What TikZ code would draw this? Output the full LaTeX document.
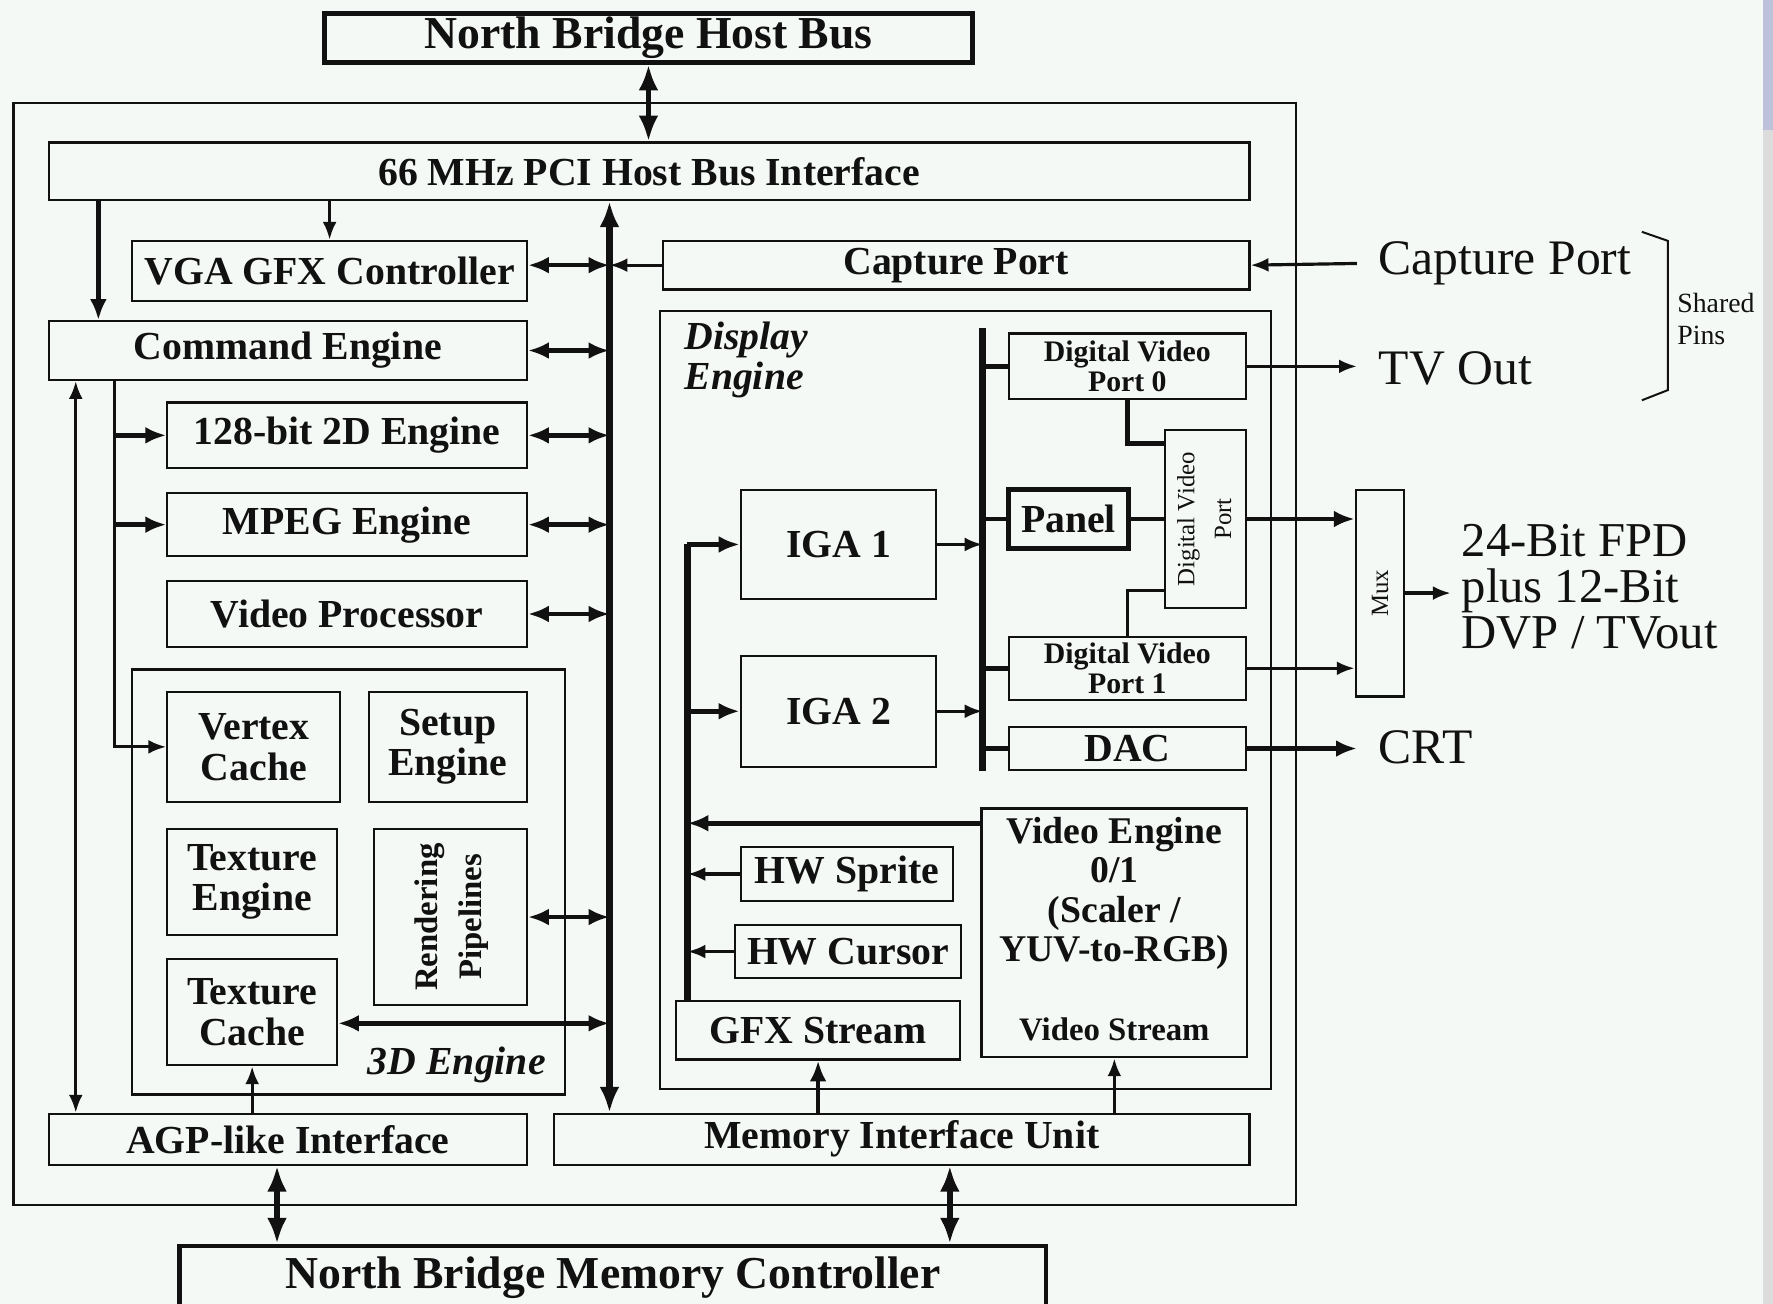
\documentclass[tikz,border=0pt]{standalone}
\usepackage{fontspec}
\setmainfont{Liberation Serif}
\usepackage{graphicx}
\usepackage{tikz}
\usetikzlibrary{arrows.meta}
\definecolor{ChipInk}{HTML}{111111}
\definecolor{PaperTint}{HTML}{F5F9F5}
\definecolor{ScrollBlue}{HTML}{BEC1DA}
\definecolor{ScrollGray}{HTML}{DCDCDC}
\tikzset{
  chip/.style={x=0.02cm,y=-0.02cm,font=\fontsize{20}{20.5}\selectfont\bfseries,color=ChipInk},
  boxwh/.style 2 args={minimum width=#1*0.02cm,minimum height=#2*0.02cm},
  unit/.style={draw=ChipInk,line width=1.1pt,inner sep=0pt,align=center},
  heavy/.style={unit,line width=2.4pt},
  pinlabel/.style={font=\fontsize{25}{23}\selectfont\mdseries,inner sep=0pt,anchor=west,align=left},
  bus/.style={line width=3.4pt,>={Latex[length=13pt,width=10pt]}},
  thinwire/.style={line width=1.6pt,>={Latex[length=9pt,width=7pt]}},
  wire/.style={line width=2.3pt,>={Latex[length=10.5pt,width=8.5pt]}},
  fatwire/.style={line width=2.8pt,>={Latex[length=13pt,width=10pt]}},
}

\begin{document}
\begin{tikzpicture}[chip]
  \path[use as bounding box] (0,0) rectangle (1568,1153);
  \clip (0,0) rectangle (1568,1153);
  \fill[PaperTint] (0,0) rectangle (1568,1153);
  \fill[ScrollGray] (1559,0) rectangle (1568,1153);
  \fill[ScrollBlue] (1559,0) rectangle (1568,115);

  \node[heavy,boxwh={573}{43},font=\fontsize{23}{24}\selectfont\bfseries] (nbhb) at (573.5,33.5) {North Bridge Host Bus};
  \node[unit,boxwh={1134}{975}] (chipframe) at (579,578.5) {};
  \node[unit,boxwh={1062}{51}] (pci) at (574,151.5) {66 MHz PCI Host Bus Interface};
  \node[unit,boxwh={519}{43}] (cap) at (845.5,234.5) {Capture Port};
  \node[unit,boxwh={349}{53}] (vga) at (291.5,239.5) {VGA GFX Controller};
  \node[unit,boxwh={423}{52}] (cmd) at (254.5,310) {Command Engine};
  \node[unit,boxwh={318}{58}] (twod) at (307,385) {128-bit 2D Engine};
  \node[unit,boxwh={318}{56}] (mpeg) at (307,464) {MPEG Engine};
  \node[unit,boxwh={318}{58}] (vproc) at (307,543) {Video Processor};

  \node[unit,boxwh={383}{376}] (threed) at (308.5,780) {};
  \node[unit,boxwh={153}{97}] (vcache) at (224.5,660.5) {Vertex\\Cache};
  \node[unit,boxwh={140}{97}] (setup) at (396,660.5) {Setup\\Engine};
  \node[unit,boxwh={150}{94}] (tengine) at (223,780) {Texture\\Engine};
  \node[unit,boxwh={135}{156},font=\fontsize{16.5}{22.5}\selectfont\bfseries] (render) at (398.5,811)
    {\rotatebox{90}{\begin{tabular}{@{}c@{}}Rendering\\Pipelines\end{tabular}}};
  \node[unit,boxwh={150}{94}] (tcache) at (223,895) {Texture\\Cache};
  \node[font=\fontsize{20}{20}\selectfont\bfseries\itshape] (threedname) at (404,942) {3D Engine};

  \node[unit,boxwh={423}{45}] (agp) at (254.5,1007.5) {AGP-like Interface};
  \node[unit,boxwh={615}{45}] (miu) at (797.5,1007.5) {Memory Interface Unit};
  \node[heavy,boxwh={766}{56},font=\fontsize{23}{24}\selectfont\bfseries] (nbmc) at (542,1130) {North Bridge Memory Controller};

  \node[unit,boxwh={540}{688}] (disp) at (854,619) {};
  \node[font=\fontsize{20}{20}\selectfont\bfseries\itshape,align=left,anchor=west,inner sep=0pt] (dispname) at (605,318) {Display\\Engine};
  \node[unit,boxwh={210}{58},font=\fontsize{15}{15}\selectfont\bfseries] (dvp0) at (997,324) {Digital Video\\Port 0};
  \node[unit,boxwh={72}{158},font=\fontsize{12.5}{18.5}\selectfont\mdseries] (dvp) at (1066,459)
    {\rotatebox{90}{\begin{tabular}{@{}c@{}}Digital Video\\Port\end{tabular}}};
  \node[heavy,boxwh={106}{52}] (panel) at (945,459) {Panel};
  \node[unit,boxwh={210}{56},font=\fontsize{15}{15}\selectfont\bfseries] (dvp1) at (997,591) {Digital Video\\Port 1};
  \node[unit,boxwh={210}{38}] (dac) at (997,662) {DAC};
  \node[unit,boxwh={173}{97}] (iga1) at (741.5,481.5) {IGA 1};
  \node[unit,boxwh={173}{98}] (iga2) at (741.5,629) {IGA 2};
  \node[unit,boxwh={235}{220}] (veng) at (985.5,825) {};
  \node[font=\fontsize{19}{19.8}\selectfont\bfseries,align=center,inner sep=0pt] (vengname) at (985.5,790)
    {Video Engine\\0/1\\(Scaler /\\YUV-to-RGB)};
  \node[font=\fontsize{16.5}{17}\selectfont\bfseries,inner sep=0pt] (vstream) at (985.5,910) {Video Stream};
  \node[unit,boxwh={188}{48}] (sprite) at (749,773) {HW Sprite};
  \node[unit,boxwh={200}{47}] (cursor) at (750,841.5) {HW Cursor};
  \node[unit,boxwh={251}{52}] (gfx) at (723.5,911) {GFX Stream};
  \node[unit,boxwh={43}{183},font=\fontsize{12.5}{13}\selectfont\mdseries] (mux) at (1220.5,524.5) {\rotatebox{90}{Mux}};

  \node[pinlabel,outer sep=11pt] (capin) at (1200,233) {Capture Port};
  \node[pinlabel,outer sep=11pt] (tvout) at (1200,326) {TV Out};
  \node[pinlabel,outer sep=11pt] (crt) at (1200,661) {CRT};
  \node[pinlabel,outer sep=5.5pt,font=\fontsize{24.5}{23}\selectfont\mdseries] (fpd) at (1283,519) {24-Bit FPD\\plus 12-Bit\\DVP / TVout};
  \node[font=\fontsize{14}{16}\selectfont\mdseries,inner sep=0pt,anchor=west,align=left] (shared) at (1483,282) {Shared\\Pins};
  \draw[line width=1pt] (1452,205) -- (1475,213) -- (1475,345) -- (1452,354);

  \coordinate (bus) at (539,0);
  \coordinate (laneA) at (67,0);
  \coordinate (laneB) at (87,0);
  \coordinate (laneC) at (101,0);
  \coordinate (dbus) at (608,0);
  \coordinate (rbusTop) at (869,290);
  \coordinate (rbusBot) at (869,682);
  \coordinate (agpLink) at (245,0);
  \coordinate (miuLink) at (840,0);

  \draw[<->,fatwire] (nbhb.south) -- (nbhb.south |- pci.north);
  \draw[->,wire] (pci.south -| laneB) -- (cmd.north -| laneB);
  \draw[->,thinwire] (pci.south -| vga.north) -- (vga.north);
  \draw[<->,bus] (pci.south -| bus) -- (miu.north -| bus);
  \draw[<->,wire] (vga.east |- cap.west) -- (cap.west -| bus);
  \draw[->,thinwire] (cap.west) -- (cap.west -| bus);
  \draw[->,thinwire] (capin.west) -- (cap.east);
  \foreach \blk in {cmd,twod,mpeg,vproc,render}
    \draw[<->,wire] (\blk.east) -- (\blk.east -| bus);
  \draw[<->,wire] ([yshift=-0.2cm]tcache.east) -- ([yshift=-0.2cm]tcache.east -| bus);
  \draw[->,thinwire] (cmd.south -| laneC) |- (vcache.west);
  \foreach \blk in {twod,mpeg}
    \draw[->,wire] (\blk.west -| laneC) -- (\blk.west);
  \draw[<->,thinwire] (cmd.south -| laneA) -- (agp.north -| laneA);
  \draw[->,thinwire] (agp.north -| tcache.south) -- (tcache.south);
  \draw[<->,fatwire] (agp.south -| agpLink) -- (nbmc.north -| agpLink);
  \draw[<->,fatwire] (miu.south -| miuLink) -- (nbmc.north -| miuLink);
  \draw[->,wire] (miu.north -| gfx.south) -- (gfx.south);
  \draw[->,thinwire] (miu.north -| veng.south) -- (veng.south);

  \draw[bus] (iga1.west -| dbus) -- (gfx.north -| dbus);
  \foreach \blk in {iga1,iga2}
    \draw[->,wire] (\blk.west -| dbus) -- (\blk.west);
  \draw[->,wire] ([yshift=-0.28cm]veng.north west) -- ([yshift=-0.28cm]veng.north west -| dbus);
  \foreach \blk in {sprite,cursor}
    \draw[->,thinwire] (\blk.west) -- (\blk.west -| dbus);
  \draw[bus] (rbusTop) -- (rbusBot);
  \foreach \blk in {iga1,iga2}
    \draw[->,thinwire] (\blk.east) -- (\blk.east -| rbusTop);
  \foreach \blk in {dvp0,panel,dvp1,dac}
    \draw[wire] (\blk.west -| rbusTop) -- (\blk.west);
  \draw[wire] (dvp0.south) |- ([yshift=-0.26cm]dvp.north west);
  \draw[wire] (panel.east) -- (dvp.west);
  \draw[thinwire] (dvp1.north) |- ([yshift=0.34cm]dvp.south west);
  \draw[->,thinwire] (dvp0.east) -- (dvp0.east -| tvout.west);
  \draw[->,wire] (dvp.east) -- (dvp.east -| mux.west);
  \draw[->,thinwire] (dvp1.east) -- (dvp1.east -| mux.west);
  \draw[->,thinwire] (mux.east) -- (mux.east -| fpd.west);
  \draw[->,wire] (dac.east) -- (dac.east -| crt.west);
\end{tikzpicture}
\end{document}
